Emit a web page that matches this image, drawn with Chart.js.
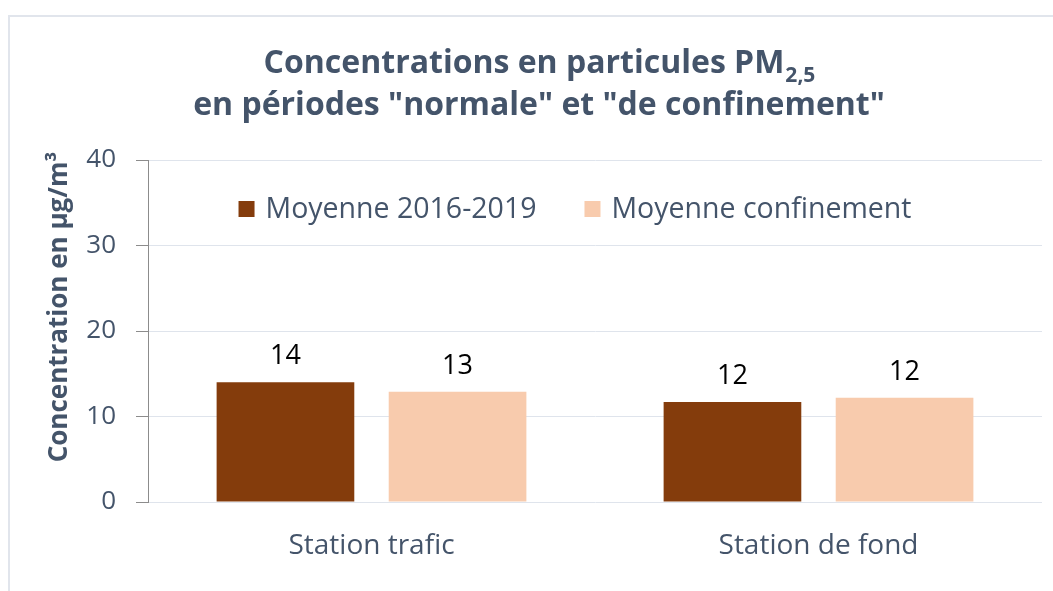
<!DOCTYPE html>
<html>
<head>
<meta charset="utf-8">
<script src="https://cdn.jsdelivr.net/npm/chart.js@4/dist/chart.umd.min.js"></script>
<style>
  html, body { margin: 0; padding: 0; background: #fff; overflow: hidden; }
  #frame { position: absolute; left: 8px; top: 15px; width: 1100px; height: 640px; border: 2px solid #e1e5ec; box-sizing: border-box; }
  #wrap { position: absolute; left: 0; top: 0; width: 1053px; height: 591px; }
</style>
</head>
<body>
<div id="frame"></div>
<div id="wrap"><canvas id="chart"></canvas></div>
<script>
const categories = ['Station trafic', 'Station de fond'];
const seriesNames = ['Moyenne 2016-2019', 'Moyenne confinement'];
const moyenne20162019 = [14.0, 11.7];
const moyenneConfinement = [12.9, 12.2];
const yMin = 0, yMax = 40, yStep = 10;
const yTitle = 'Concentration en µg/m³';

const FONT = '"Open Sans", Lato, sans-serif';
const SLATE = '#44546a';

// title with subscript, drawn by hand
const titlePlugin = {
    id: 'pmTitle',
    afterDraw(chart) {
        const ctx = chart.ctx;
        const cx = 539;
        const main = 'Concentrations en particules PM';
        ctx.save();
        ctx.fillStyle = SLATE;
        ctx.textBaseline = 'alphabetic';
        ctx.font = 'bold 32px ' + FONT;
        const wMain = ctx.measureText(main).width;
        ctx.font = 'bold 21px ' + FONT;
        const wSub = ctx.measureText('2,5').width;
        const x0 = cx - (wMain + wSub) / 2;
        ctx.textAlign = 'left';
        ctx.font = 'bold 32px ' + FONT;
        ctx.fillText(main, x0, 73);
        ctx.font = 'bold 21px ' + FONT;
        ctx.fillText('2,5', x0 + wMain + 1, 82);
        ctx.font = 'bold 32px ' + FONT;
        ctx.textAlign = 'center';
        ctx.fillText('en périodes "normale" et "de confinement"', cx, 115);

        // y axis title, a bit above the axis middle like the original
        ctx.save();
        ctx.translate(60, 307);
        ctx.rotate(-Math.PI / 2);
        ctx.font = 'bold 26px ' + FONT;
        ctx.textBaseline = 'middle';
        ctx.fillText(yTitle, 0, 0);
        ctx.restore();
        ctx.restore();
    }
};

// value labels above the bars
const valueLabels = {
    id: 'valueLabels',
    afterDatasetsDraw(chart) {
        const ctx = chart.ctx;
        ctx.save();
        ctx.fillStyle = '#000';
        ctx.font = '27px ' + FONT;
        ctx.textAlign = 'center';
        ctx.textBaseline = 'alphabetic';
        chart.data.datasets.forEach((ds, i) => {
            chart.getDatasetMeta(i).data.forEach((bar, j) => {
                ctx.fillText(Math.round(ds.data[j]), bar.x, bar.y - 18);
            });
        });
        ctx.restore();
    }
};

// one-row legend inside the plot area
const insideLegend = {
    id: 'insideLegend',
    afterDraw(chart) {
        const ctx = chart.ctx;
        const area = chart.chartArea;
        const box = 16, gapText = 11, gapItem = 48;
        ctx.save();
        ctx.font = '28.5px ' + FONT;
        const items = chart.data.datasets.map(ds => ({
            text: ds.label, color: ds.backgroundColor, w: ctx.measureText(ds.label).width
        }));
        let total = items.reduce((s, it) => s + box + gapText + it.w, 0) + gapItem * (items.length - 1);
        let x = (area.left + area.right) / 2 - 20 - total / 2;
        const cy = 209;
        ctx.textBaseline = 'middle';
        ctx.textAlign = 'left';
        items.forEach(it => {
            ctx.fillStyle = it.color;
            ctx.fillRect(x, cy - box / 2, box, box);
            ctx.fillStyle = SLATE;
            ctx.fillText(it.text, x + box + gapText, cy + 1);
            x += box + gapText + it.w + gapItem;
        });
        ctx.restore();
    }
};

new Chart(document.getElementById('chart'), {
    type: 'bar',
    data: {
        labels: categories,
        datasets: [{
            label: seriesNames[0],
            data: moyenne20162019,
            backgroundColor: '#843c0c',
            categoryPercentage: 0.77,
            barPercentage: 0.8
        }, {
            label: seriesNames[1],
            data: moyenneConfinement,
            backgroundColor: '#f8cbad',
            categoryPercentage: 0.77,
            barPercentage: 0.8
        }]
    },
    options: {
        responsive: true,
        maintainAspectRatio: false,
        animation: false,
        layout: { padding: { top: 160, left: 46, right: 11, bottom: 0 } },
        plugins: {
            title: { display: false },
            tooltip: { enabled: false },
            legend: { display: false }
        },
        scales: {
            x: {
                grid: { display: false, drawTicks: false },
                border: { display: false },
                ticks: { color: SLATE, padding: 27, font: { family: FONT, size: 28 } },
                afterFit(scale) { scale.height = 89; }
            },
            y: {
                min: yMin,
                max: yMax,
                ticks: { stepSize: yStep, color: SLATE, padding: 20, font: { family: FONT, size: 26 } },
                grid: { color: '#dfe4ec', lineWidth: 1, tickLength: 12, tickColor: '#8c8c8c' },
                border: { display: true, color: '#8c8c8c', width: 1 },
                title: { display: false },
                afterFit(scale) { scale.width = 102; }
            }
        }
    },
    plugins: [titlePlugin, valueLabels, insideLegend]
});
</script>
</body>
</html>
